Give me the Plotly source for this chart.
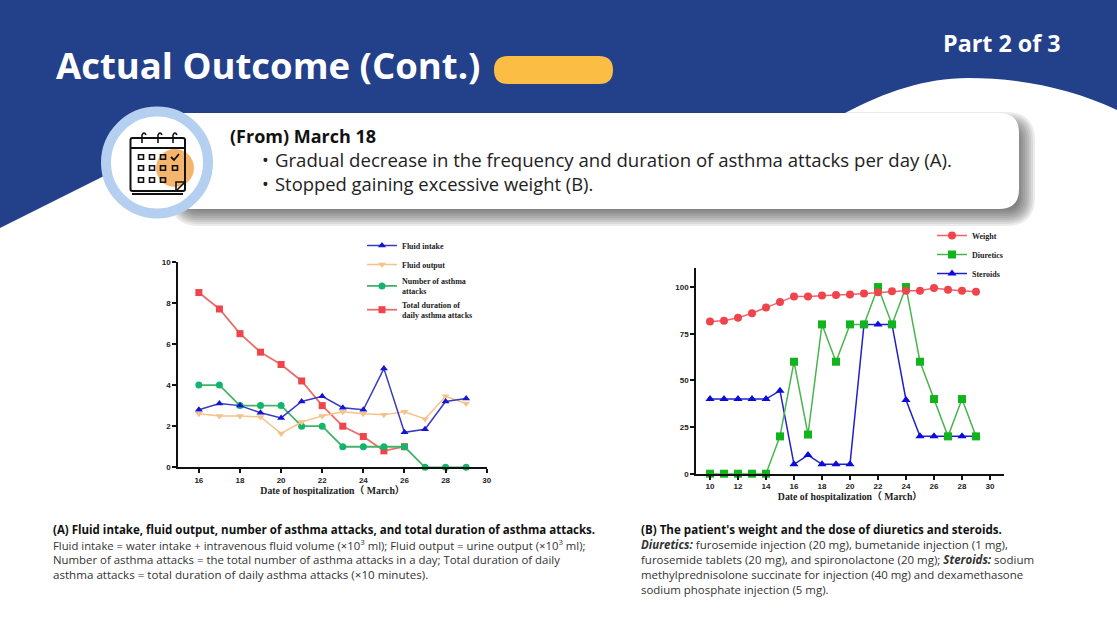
import plotly.graph_objects as go

W, H = 1117, 628
def fx(x): return x / W
def fy(y): return 1 - y / H

# ---- data ----
days_a = list(range(16, 30))
fluid_intake = [2.8, 3.1, 3.0, 2.65, 2.4, 3.2, 3.45, 2.9, 2.8, 4.8, 1.7, 1.85, 3.2, 3.35]
fluid_output = [2.6, 2.5, 2.5, 2.45, 1.65, 2.2, 2.5, 2.7, 2.6, 2.55, 2.7, 2.35, 3.45, 3.1]
asthma_attacks = [4, 4, 3, 3, 3, 2, 2, 1, 1, 1, 1, 0, 0, 0]
days_duration = list(range(16, 27))
attack_duration = [8.5, 7.7, 6.5, 5.6, 5.0, 4.2, 3.0, 2.0, 1.5, 0.8, 1.0]

days_b = list(range(10, 30))
weight = [81.5, 82, 83.5, 86, 89, 92, 95, 95, 95.5, 95.7, 96, 96.5, 97.2, 97.7, 98, 98, 99.5, 98.5, 98, 97.5]
diuretics = [0, 0, 0, 0, 0, 20, 60, 21, 80, 60, 80, 80, 100, 80, 100, 60, 40, 20, 40, 20]
steroids = [40, 40, 40, 40, 40, 44.5, 5, 10, 5, 5, 5, 80, 80, 80, 39.5, 20, 20, 20, 20, 20]

xticks_a = [16, 18, 20, 22, 24, 26, 28, 30]
yticks_a = [0, 2, 4, 6, 8, 10]
xticks_b = [10, 12, 14, 16, 18, 20, 22, 24, 26, 28, 30]
yticks_b = [0, 25, 50, 75, 100]
xtitle = "Date of hospitalization（ March）"

BLUE = "#23408a"
SANS = "Open Sans"
SERIF = "Liberation Serif, Noto Sans CJK SC"

fig = go.Figure()

def add(x, y, name, color, line, symbol, size, axes, legend, lw=1.5):
    fig.add_trace(go.Scatter(
        x=x, y=y, name=name, mode="lines+markers", xaxis=axes[0], yaxis=axes[1], legend=legend,
        line=dict(color=line, width=lw), marker=dict(color=color, symbol=symbol, size=size),
        cliponaxis=False, hoverinfo="x+y+name"))

add(days_duration, attack_duration, "Total duration of<br>daily asthma attacks", "#f0434a", "#e8706a", "square", 7, ("x", "y"), "legend", 1.8)
add(days_a, asthma_attacks, "Number of asthma<br>attacks", "#12b56e", "#45b368", "circle", 7, ("x", "y"), "legend", 1.8)
add(days_a, fluid_output, "Fluid output", "#f6c28b", "#f6c28b", "triangle-down", 7, ("x", "y"), "legend")
add(days_a, fluid_intake, "Fluid intake", "#1414d2", "#3a3ac0", "triangle-up", 7, ("x", "y"), "legend")

add(days_b, steroids, "Steroids", "#0b0bdc", "#2020c8", "triangle-up", 8, ("x2", "y2"), "legend2")
add(days_b, diuretics, "Diuretics", "#12b41e", "#4ab54e", "square", 8, ("x2", "y2"), "legend2")
add(days_b, weight, "Weight", "#f0444c", "#f0606a", "circle", 8, ("x2", "y2"), "legend2")

def rrect(x0, y0, x1, y1, r):
    return (f"M{fx(x0+r)},{fy(y0)} L{fx(x1-r)},{fy(y0)} Q{fx(x1)},{fy(y0)} {fx(x1)},{fy(y0+r)} "
            f"L{fx(x1)},{fy(y1-r)} Q{fx(x1)},{fy(y1)} {fx(x1-r)},{fy(y1)} L{fx(x0+r)},{fy(y1)} "
            f"Q{fx(x0)},{fy(y1)} {fx(x0)},{fy(y1-r)} L{fx(x0)},{fy(y0+r)} Q{fx(x0)},{fy(y0)} {fx(x0+r)},{fy(y0)} Z")

shapes = []
def path(d, fill=None, stroke=None, width=1, opacity=1):
    shapes.append(dict(type="path", path=d, xref="paper", yref="paper", layer="below", opacity=opacity,
                       fillcolor=fill or "rgba(0,0,0,0)", line=dict(color=stroke or "rgba(0,0,0,0)", width=width)))
def poly(pts, close=True, **kw):
    d = "M" + " L".join(f"{fx(a)},{fy(b)}" for a, b in pts) + (" Z" if close else "")
    path(d, **kw)
def rect(x0, y0, x1, y1, fill=None, stroke=None, width=1):
    shapes.append(dict(type="rect", xref="paper", yref="paper", layer="below", x0=fx(x0), x1=fx(x1), y0=fy(y0), y1=fy(y1),
                       fillcolor=fill or "rgba(0,0,0,0)", line=dict(color=stroke or "rgba(0,0,0,0)", width=width)))
def circle(cx, cy, r, fill=None, stroke=None, width=0):
    shapes.append(dict(type="circle", xref="paper", yref="paper", layer="below", x0=fx(cx-r), x1=fx(cx+r), y0=fy(cy+r), y1=fy(cy-r),
                       fillcolor=fill or "rgba(0,0,0,0)", line=dict(color=stroke or "rgba(0,0,0,0)", width=width)))

# blue banner
path(f"M{fx(0)},{fy(0)} L{fx(1117)},{fy(0)} L{fx(1117)},{fy(110)} "
     f"C{fx(1070)},{fy(88)} {fx(1020)},{fy(78)} {fx(968)},{fy(78)} "
     f"C{fx(925)},{fy(78)} {fx(885)},{fy(92)} {fx(845)},{fy(113)} "
     f"L{fx(200)},{fy(113)} L{fx(160)},{fy(148)} L{fx(100)},{fy(178)} L{fx(0)},{fy(228)} Z", fill=BLUE)
# pill
path(rrect(494, 56, 613, 84, 14), fill="#fbbd44")
# card shadow
for i in range(9):
    g = 9 - 2 * i
    path(rrect(172 - g + 7, 113 - g + 8, 1019 + g + 7, 209 + g + 8, 20 + g), fill="#303030", opacity=0.09)
# card
path(rrect(165, 113, 1019, 209, 20), fill="#ffffff")
# icon
circle(157, 162.5, 51, fill="#ffffff", stroke="#b5cff0", width=10)
circle(175, 168, 19, fill="#f5b56c")
path(rrect(130.5, 138, 185, 191, 2), stroke="#111111", width=2)
poly([(130.5, 148), (185, 148)], close=False, stroke="#111111", width=2)
poly([(132, 194), (183, 194)], close=False, stroke="#111111", width=2)
for rx in (142, 158, 173):
    path(f"M{fx(rx)},{fy(143)} L{fx(rx)},{fy(135)} Q{fx(rx+2)},{fy(131)} {fx(rx+4)},{fy(135)}", stroke="#111111", width=1.6)
col = [141, 152, 163, 175]
row = [157, 168, 180]
for j, ry in enumerate(row):
    for i, rx in enumerate(col):
        if (j == 0 and i == 3) or (j == 2 and i == 3):
            continue
        rect(rx - 2.5, ry - 2.2, rx + 2.5, ry + 2.2, stroke="#111111", width=1.6)
poly([(171, 157), (174, 160), (179, 154)], close=False, stroke="#111111", width=1.8)
poly([(176, 191), (176, 182), (185, 182)], close=False, stroke="#111111", width=1.6)
poly([(176, 191), (185, 182)], close=False, stroke="#111111", width=1.6)

ann = []
def text(x, y, s, size, color="#111111", bold=False, family=SANS):
    ann.append(dict(x=fx(x), y=fy(y), xref="paper", yref="paper", text=f"<b>{s}</b>" if bold else s, showarrow=False,
                    xanchor="left", yanchor="middle", align="left", font=dict(family=family, size=size, color=color)))

text(54, 65, "Actual Outcome (Cont.)", 36.5, "#ffffff", True)
text(941, 43, "Part 2 of 3", 23.3, "#ffffff", True)
text(228, 136, "(From) March 18", 18, "#111111", True)
text(260, 159.5, "•", 18, "#222222")
text(273, 159.5, "Gradual decrease in the frequency and duration of asthma attacks per day (A).", 18.6, "#222222")
text(260, 183.5, "•", 18, "#222222")
text(273, 183.5, "Stopped gaining excessive weight (B).", 18.4, "#222222")

CAP = "#333333"
text(51, 529.5, "(A) Fluid intake, fluid output, number of asthma attacks, and total duration of asthma attacks.", 11.5, "#111111", True)
text(51, 544.5, "Fluid intake = water intake + intravenous fluid volume (×10<sup>3</sup> ml); Fluid output = urine output (×10<sup>3</sup> ml);", 11.3, CAP)
text(51, 559.5, "Number of asthma attacks = the total number of asthma attacks in a day; Total duration of daily", 11.4, CAP)
text(51, 574.5, "asthma attacks = total duration of daily asthma attacks (×10 minutes).", 11.6, CAP)
text(639, 529.5, "(B) The patient's weight and the dose of diuretics and steroids.", 11.6, "#111111", True)
text(639, 544.5, "<b><i>Diuretics:</i></b> furosemide injection (20 mg), bumetanide injection (1 mg),", 11.5, CAP)
text(639, 559.5, "furosemide tablets (20 mg), and spironolactone (20 mg); <b><i>Steroids:</i></b> sodium", 11.5, CAP)
text(639, 574, "methylprednisolone succinate for injection (40 mg) and dexamethasone", 11.45, CAP)
text(639, 589, "sodium phosphate injection (5 mg).", 11.45, CAP)

def axis(dom, rng, ticks, lw, **kw):
    return dict(domain=dom, range=rng, tickmode="array", tickvals=ticks, showgrid=False, zeroline=False, showline=True,
                automargin=False, linecolor="#111111", linewidth=lw, ticks="outside", tickcolor="#111111", tickwidth=lw, ticklen=4,
                tickfont=dict(family="Liberation Sans", size=8, color="#222222", weight=700), **kw)

axis_title = dict(text=xtitle, font=dict(family=SERIF, size=9.8, color="#222222", weight=700), standoff=3)

fig.update_layout(
    width=W, height=H, autosize=False, margin=dict(l=0, r=0, t=0, b=0), paper_bgcolor="#ffffff", plot_bgcolor="rgba(0,0,0,0)",
    shapes=shapes, annotations=ann,
    xaxis=axis([fx(178.3), fx(486.7)], [15, 30], xticks_a, 2, anchor="y", title=axis_title),
    yaxis=axis([fy(467.3), fy(261.7)], [0, 10], yticks_a, 2, anchor="x"),
    xaxis2=axis([fx(696), fx(1004)], [9, 31], xticks_b, 1.6, anchor="y2", title=axis_title),
    yaxis2=axis([fy(473.7), fy(268.4)], [0, 110], yticks_b, 1.6, anchor="x2"),
    legend=dict(x=fx(362), y=fy(231), xanchor="left", yanchor="top", traceorder="reversed", bgcolor="rgba(0,0,0,0)",
                font=dict(family=SERIF, size=8, color="#222222", weight=700), tracegroupgap=0),
    legend2=dict(x=fx(932), y=fy(221), xanchor="left", yanchor="top", traceorder="reversed", bgcolor="rgba(0,0,0,0)",
                 font=dict(family=SERIF, size=8, color="#222222", weight=700), tracegroupgap=0),
)

fig.write_html("out.html", config=dict(displayModeBar=False),
               post_script="document.body.style.margin='0';document.body.style.overflow='hidden';")
